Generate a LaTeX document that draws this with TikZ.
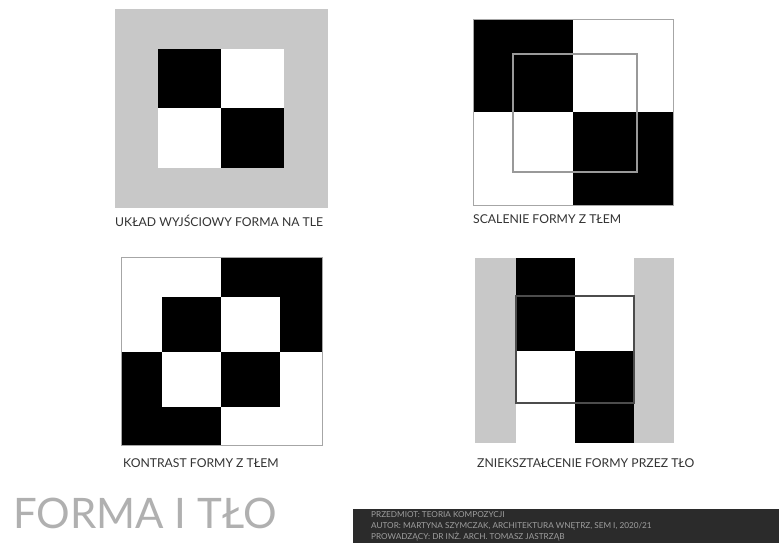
\documentclass[tikz,border=0pt]{standalone}
\usepackage{fontspec}
\setmainfont{Lato}
\definecolor{bggray}{HTML}{C8C8C8}
\definecolor{barcol}{HTML}{2B2B2B}
\definecolor{titlegray}{HTML}{B0B0B0}
\tikzset{
  caption/.style={anchor=base west,inner sep=0pt,font=\fontsize{12.2}{14}\selectfont,text=black!80},
  frame/.style={draw=gray!70,line width=0.8pt},
  inner frame/.style={draw=gray!80,line width=1.6pt},
}
\begin{document}
\begin{tikzpicture}[x=1pt,y=-1pt]
  \useasboundingbox[fill=white] (0,0) rectangle (779,543);
  % uklad wyjsciowy
  \fill[bggray] (115,9) rectangle (328,208);
  \fill[black] (158,49) rectangle (221,108);
  \fill[white] (221,49) rectangle (284,108);
  \fill[white] (158,108) rectangle (221,168);
  \fill[black] (221,108) rectangle (284,168);
  \node[caption] (cap1) at (115,226) {UKŁAD WYJŚCIOWY FORMA NA TLE};
  % scalenie
  \fill[black] (473,19) rectangle (573,112);
  \fill[black] (573,112) rectangle (673,205);
  \draw[frame] (473,19) rectangle (673,205);
  \draw[inner frame] (513,54) rectangle (637,172);
  \node[caption] (cap2) at (473,223) {SCALENIE FORMY Z TŁEM};
  % kontrast
  \fill[black] (221,257) rectangle (322,352);
  \fill[black] (121,352) rectangle (221,445);
  \fill[black] (162,297) rectangle (221,352);
  \fill[white] (221,297) rectangle (280,352);
  \fill[white] (162,352) rectangle (221,407);
  \fill[black] (221,352) rectangle (280,407);
  \draw[frame] (121,257) rectangle (322,445);
  \node[caption] (cap3) at (123,467) {KONTRAST FORMY Z TŁEM};
  % znieksztalcenie
  \fill[bggray] (475,258) rectangle (516,443);
  \fill[bggray] (634,258) rectangle (674,443);
  \fill[black] (516,258) rectangle (575,351);
  \fill[black] (575,351) rectangle (634,443);
  \draw[inner frame,draw=gray!60!black] (516,296) rectangle (634,403);
  \node[caption] (cap4) at (477,467) {ZNIEKSZTAŁCENIE FORMY PRZEZ TŁO};
  % tytul i stopka
  \node[anchor=west,inner sep=0pt,text=titlegray,font=\fontsize{42}{42}\selectfont] (title) at (13,513) {FORMA I TŁO};
  \fill[barcol] (353,509) rectangle (779,543);
  \node[anchor=north west,inner sep=0pt,align=left,text=gray!75,
    font=\fontsize{8.2}{11}\selectfont] (info) at (371,511)
    {PRZEDMIOT: TEORIA KOMPOZYCJI\\
     AUTOR: MARTYNA SZYMCZAK, ARCHITEKTURA WNĘTRZ, SEM I, 2020/21\\
     PROWADZĄCY: DR INŻ. ARCH. TOMASZ JASTRZĄB};
\end{tikzpicture}
\end{document}
